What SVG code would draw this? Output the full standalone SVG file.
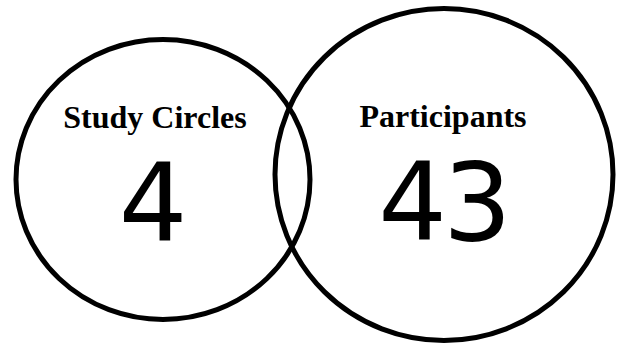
<svg xmlns="http://www.w3.org/2000/svg" width="618" height="344" viewBox="0 0 618 344">
<style>
.ring{fill:none;stroke:#000;stroke-width:5}
.lbl{font-family:"Liberation Serif","Times New Roman",serif;font-weight:bold;font-size:32px;fill:#000;text-anchor:middle}
.num{font-family:"DejaVu Sans","Liberation Sans",sans-serif;font-size:108px;fill:#000;text-anchor:middle}
</style>
<rect width="618" height="344" fill="#fff"/>
<g id="study-circles">
<ellipse class="ring" cx="163" cy="179.5" rx="147" ry="140"/>
<text class="lbl" x="155" y="128">Study Circles</text>
<text class="num" x="153" y="241">4</text>
</g>
<g id="participants">
<ellipse class="ring" cx="444" cy="174.5" rx="169" ry="166"/>
<text class="lbl" x="443" y="127">Participants</text>
<text class="num" x="443" y="240" letter-spacing="-4">43</text>
</g>
<g id="connectors"></g>
</svg>
